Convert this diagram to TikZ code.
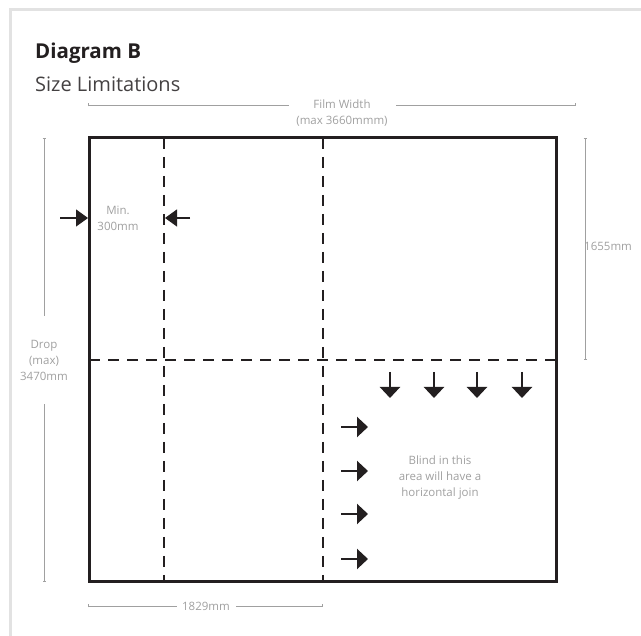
\documentclass[tikz,border=0pt]{standalone}
\usepackage{fontspec}
\setmainfont{Open Sans}
\usetikzlibrary{arrows.meta}
\definecolor{ink}{HTML}{231F20}
\definecolor{dimgrey}{HTML}{A0A0A0}
\definecolor{framegrey}{HTML}{E2E2E2}
\tikzset{
  dimline/.style={dimgrey, line width=0.9pt, {Bar[width=3pt]}-{Bar[width=3pt]}},
  dimhalf/.style={dimgrey, line width=0.9pt, {Bar[width=3pt]}-},
  dimtext/.style={dimgrey, font=\fontsize{11.5}{16}\selectfont, align=center, inner sep=0pt},
  cut/.style={ink, line width=2.6pt, dash pattern=on 11pt off 8pt},
  push/.style={ink, line width=2.2pt, -{Triangle[length=11pt,width=20pt]}},
  pinch/.style={ink, line width=1.3pt, -{Triangle[length=12pt,width=17pt]}}
}
\begin{document}
\begin{tikzpicture}[x=1pt,y=-1pt]
\useasboundingbox (0,0) rectangle (641,636);
\draw[framegrey, line width=3pt] (10,640) -- (10,10) -- (645,10);
\node[anchor=base west, inner sep=0pt, font=\fontsize{20.5}{22}\selectfont\bfseries, ink] (title) at (35,59) {Diagram B};
\node[anchor=base west, inner sep=0pt, font=\fontsize{20}{22}\selectfont, ink!85] (sub) at (35,92) {Size Limitations};
% the blind
\draw[cut] (164,138) -- (164,582);
\draw[cut] (323,138) -- (323,582);
\draw[cut] (89,360) -- (556,360);
\draw[ink, line width=3pt] (89,138) rectangle (556,582);
% film width
\node[dimtext] (fw) at (342,113) {Film Width\\(max 3660mmm)};
\coordinate (fwl) at (88,105);
\coordinate (fwr) at (576,105);
\draw[dimhalf] (fwl) -- (289,105);
\draw[dimhalf] (fwr) -- (396,105);
% drop
\node[dimtext] (drop) at (44,360) {Drop\\(max)\\3470mm};
\coordinate (dropt) at (44,138);
\coordinate (dropb) at (44,582);
\draw[dimhalf] (dropt) -- (44,316);
\draw[dimhalf] (dropb) -- (44,404);
% upper drop
\node[dimtext, anchor=west] (up) at (584,246) {1655mm};
\coordinate (upt) at (585,138);
\coordinate (upb) at (585,360);
\draw[dimline] (upt) -- (upb);
% bottom width
\node[dimtext] (bw) at (206,606) {1829mm};
\coordinate (bwl) at (88,606);
\coordinate (bwr) at (323,606);
\draw[dimhalf] (bwl) -- (177,606);
\draw[dimhalf] (bwr) -- (236,606);
% min width
\node[dimtext] (min) at (118,218) {Min.\\300mm};
\draw[pinch] (60,218) -- (88,218);
\draw[pinch] (190,218) -- (165,218);
% join area
\node[dimtext] (join) at (440,478) {Blind in this\\area will have a\\horizontal join};
\foreach \x in {390, 434, 477, 522} {
  \draw[push] (\x,372) -- +(0,26);
}
\foreach \y in {427, 471, 514, 559} {
  \draw[push] (341,\y) -- +(27,0);
}
\end{tikzpicture}
\end{document}
